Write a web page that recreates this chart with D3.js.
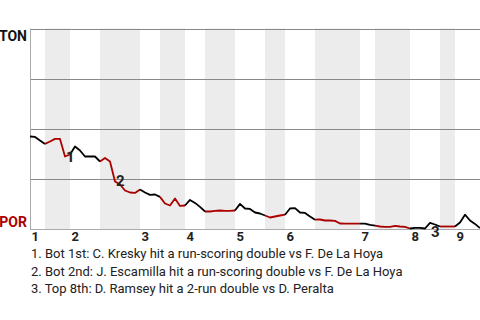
<!DOCTYPE html>
<html><head><meta charset="utf-8">
<script src="https://cdn.jsdelivr.net/npm/d3@7"></script>
<style>body{margin:0;background:#fff}svg{display:block}text{font-family:Roboto,"Noto Sans",sans-serif}</style>
</head><body><svg id="c" width="480" height="320"></svg>
<script>
// Plate appearances per half inning (T1, B1, T2, B2, ...)
const halfCounts = [3,5,6,8,4,5,4,6,6,4,6,9,3,7,6,3,5];
const innings = ["1","2","3","4","5","6","7","8","9"];
// TON win probability (%) after each plate appearance (index 0 = game start)
const winProb = [
 46,45.8,44,42.3,
 43.5,44.8,44.8,36,37,
 41,39,36,36,36,33.5,
 35.3,33.5,23.5,22,19,18,17.8,19.5,
 18,16.8,17,15.8,
 12.5,11.5,15,11.3,11.5,
 14.3,12.8,10.8,8.5,
 8.5,8.8,9,8.8,8.8,9,
 12.3,10,9.8,8,7.5,6.5,
 5.5,6,6.5,6.9,
 10,10.2,8,7.8,6,4.4,
 4.5,4,4,3.8,2.5,2.4,2.4,2.4,2.4,
 2.4,1.8,1.4,
 1,0.8,0.8,1.3,1,0.8,0,
 0.3,0.3,0,2.8,2,1,
 1,1,1,
 3,6.9,4,2.3,0.2
];
const teams = ["TON","POR"];
const notes = [
 "1. Bot 1st: C. Kresky hit a run-scoring double vs F. De La Hoya",
 "2. Bot 2nd: J. Escamilla hit a run-scoring double vs F. De La Hoya",
 "3. Top 8th: D. Ramsey hit a 2-run double vs D. Peralta"
];
const noteIdx = [7,17,80];
const noteDy = [5,4,14];
const gridVals = [25,50,75,100];

const svg = d3.select("#c");
const L=30, R=480, T=28, B=228;
const x = d3.scaleLinear().domain([0, winProb.length-1]).range([L, R]);
const y = d3.scaleLinear().domain([0,100]).range([B+0.5, T+0.5]);

// half-inning boundaries
const bounds=[0]; halfCounts.forEach(c=>bounds.push(bounds[bounds.length-1]+c));
const halves = halfCounts.map((c,i)=>({i, s:bounds[i], e:bounds[i+1], bottom:i%2===1}));

svg.append("g").selectAll("rect").data(halves.filter(h=>h.bottom)).join("rect")
  .attr("x",d=>x(d.s)).attr("width",d=>x(d.e)-x(d.s))
  .attr("y",y(100)).attr("height",y(0)-y(100)+1).attr("fill","#ececec");

svg.append("g").selectAll("line").data(gridVals).join("line")
  .attr("x1",L).attr("x2",R).attr("y1",d=>Math.round(y(d))+0.5).attr("y2",d=>Math.round(y(d))+0.5)
  .attr("stroke","#888").attr("stroke-width",1);
svg.append("line").attr("x1",L+0.5).attr("x2",L+0.5).attr("y1",y(100)).attr("y2",B+2)
  .attr("stroke","#aaa");
svg.append("line").attr("x1",L).attr("x2",R).attr("y1",B+1.5).attr("y2",B+1.5).attr("stroke","#aaa");

const line = d3.line().x(d=>x(d[0])).y(d=>y(d[1]));
svg.append("g").selectAll("path").data(halves).join("path")
  .attr("d",h=>line(d3.range(h.s,h.e+1).map(k=>[k,winProb[k]])))
  .attr("fill","none").attr("stroke",h=>h.bottom?"#a00":"#000").attr("stroke-width",1.8)
  .attr("stroke-linejoin","round");

// inning labels
const innStarts = halves.filter(h=>!h.bottom).map(h=>h.s);
svg.append("g").selectAll("text").data(innings).join("text")
  .attr("x",(d,i)=>x(innStarts[i])+1.5).attr("y",B+13)
  .attr("font-size",13).attr("font-weight","bold").attr("fill","#222").text(d=>d);

// team labels
svg.append("text").attr("x",27).attr("y",y(100)+12).attr("text-anchor","end")
  .attr("font-size",14).attr("font-weight","bold").attr("fill","#111").text(teams[0]);
svg.append("text").attr("x",27).attr("y",y(0)-2).attr("text-anchor","end")
  .attr("font-size",14).attr("font-weight","bold").attr("fill","#a00").text(teams[1]);

// annotation markers
svg.append("g").selectAll("text").data(noteIdx).join("text")
  .attr("x",d=>x(d)+1).attr("y",(d,i)=>y(winProb[d])+noteDy[i])
  .attr("font-size",15).attr("font-weight","bold").attr("fill","#222").text((d,i)=>i+1);

svg.append("g").selectAll("text").data(notes).join("text")
  .attr("x",31).attr("y",(d,i)=>258+i*17.5)
  .attr("font-size",13).attr("fill","#222").text(d=>d);
</script></body></html>
